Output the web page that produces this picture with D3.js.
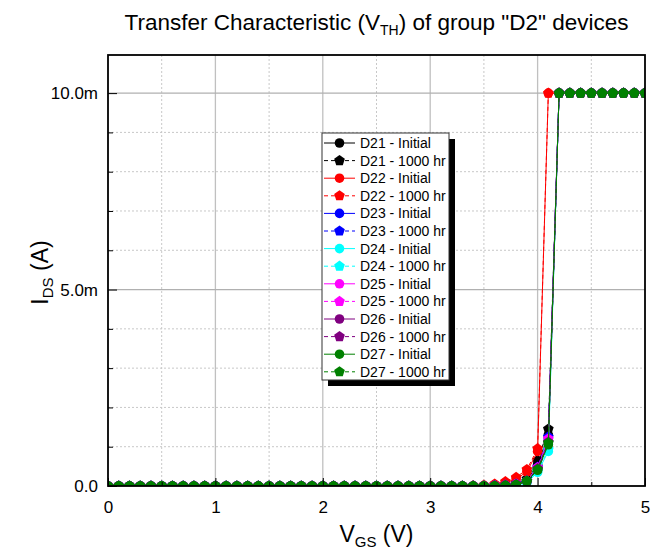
<!DOCTYPE html>
<html>
<head>
<meta charset="utf-8">
<script src="https://cdn.jsdelivr.net/npm/d3@7"></script>
<style>
  body { margin: 0; background: #fff; }
  svg { font-family: Arial, "Liberation Sans", sans-serif; }
</style>
</head>
<body>
<div id="main-frame"></div>
<script>
// V_GS sweep (V), 0.1 V step
const vgs = [
  0.0, 0.1, 0.2, 0.3, 0.4, 0.5, 0.6, 0.7, 0.8, 0.9,
  1.0, 1.1, 1.2, 1.3, 1.4, 1.5, 1.6, 1.7, 1.8, 1.9,
  2.0, 2.1, 2.2, 2.3, 2.4, 2.5, 2.6, 2.7, 2.8, 2.9,
  3.0, 3.1, 3.2, 3.3, 3.4, 3.5, 3.6, 3.7, 3.8, 3.9,
  4.0, 4.1, 4.2, 4.3, 4.4, 4.5, 4.6, 4.7, 4.8, 4.9, 5.0,
];

// I_DS values (mA), one array per series
const d21Initial = [
  0, 0, 0, 0, 0, 0, 0, 0, 0, 0, 0, 0, 0, 0, 0, 0, 0, 0, 0, 0,
  0, 0, 0, 0, 0, 0, 0, 0, 0, 0, 0, 0, 0, 0, 0,
  0.0, 0.01, 0.03, 0.06, 0.15, 0.55, 1.3, 10, 10, 10, 10, 10, 10, 10, 10, 10,
];
const d21Hr1000 = [
  0, 0, 0, 0, 0, 0, 0, 0, 0, 0, 0, 0, 0, 0, 0, 0, 0, 0, 0, 0,
  0, 0, 0, 0, 0, 0, 0, 0, 0, 0, 0, 0, 0, 0, 0,
  0.0, 0.01, 0.03, 0.07, 0.18, 0.65, 1.45, 10, 10, 10, 10, 10, 10, 10, 10, 10,
];
const d22Initial = [
  0, 0, 0, 0, 0, 0, 0, 0, 0, 0, 0, 0, 0, 0, 0, 0, 0, 0, 0, 0,
  0, 0, 0, 0, 0, 0, 0, 0, 0, 0, 0, 0, 0, 0, 0,
  0.01, 0.03, 0.08, 0.18, 0.36, 0.88, 10, 10, 10, 10, 10, 10, 10, 10, 10, 10,
];
const d22Hr1000 = [
  0, 0, 0, 0, 0, 0, 0, 0, 0, 0, 0, 0, 0, 0, 0, 0, 0, 0, 0, 0,
  0, 0, 0, 0, 0, 0, 0, 0, 0, 0, 0, 0, 0, 0, 0.01,
  0.02, 0.05, 0.11, 0.22, 0.42, 0.95, 10, 10, 10, 10, 10, 10, 10, 10, 10, 10,
];
const d23Initial = [
  0, 0, 0, 0, 0, 0, 0, 0, 0, 0, 0, 0, 0, 0, 0, 0, 0, 0, 0, 0,
  0, 0, 0, 0, 0, 0, 0, 0, 0, 0, 0, 0, 0, 0, 0,
  0.0, 0.01, 0.02, 0.05, 0.12, 0.45, 1.2, 10, 10, 10, 10, 10, 10, 10, 10, 10,
];
const d23Hr1000 = [
  0, 0, 0, 0, 0, 0, 0, 0, 0, 0, 0, 0, 0, 0, 0, 0, 0, 0, 0, 0,
  0, 0, 0, 0, 0, 0, 0, 0, 0, 0, 0, 0, 0, 0, 0,
  0.0, 0.01, 0.02, 0.05, 0.13, 0.48, 1.25, 10, 10, 10, 10, 10, 10, 10, 10, 10,
];
const d24Initial = [
  0, 0, 0, 0, 0, 0, 0, 0, 0, 0, 0, 0, 0, 0, 0, 0, 0, 0, 0, 0,
  0, 0, 0, 0, 0, 0, 0, 0, 0, 0, 0, 0, 0, 0, 0,
  0.0, 0.0, 0.01, 0.03, 0.08, 0.35, 0.88, 10, 10, 10, 10, 10, 10, 10, 10, 10,
];
const d24Hr1000 = [
  0, 0, 0, 0, 0, 0, 0, 0, 0, 0, 0, 0, 0, 0, 0, 0, 0, 0, 0, 0,
  0, 0, 0, 0, 0, 0, 0, 0, 0, 0, 0, 0, 0, 0, 0,
  0.0, 0.0, 0.01, 0.03, 0.09, 0.38, 0.93, 10, 10, 10, 10, 10, 10, 10, 10, 10,
];
const d25Initial = [
  0, 0, 0, 0, 0, 0, 0, 0, 0, 0, 0, 0, 0, 0, 0, 0, 0, 0, 0, 0,
  0, 0, 0, 0, 0, 0, 0, 0, 0, 0, 0, 0, 0, 0, 0,
  0.0, 0.01, 0.02, 0.05, 0.12, 0.45, 1.15, 10, 10, 10, 10, 10, 10, 10, 10, 10,
];
const d25Hr1000 = [
  0, 0, 0, 0, 0, 0, 0, 0, 0, 0, 0, 0, 0, 0, 0, 0, 0, 0, 0, 0,
  0, 0, 0, 0, 0, 0, 0, 0, 0, 0, 0, 0, 0, 0, 0,
  0.0, 0.01, 0.02, 0.05, 0.13, 0.47, 1.2, 10, 10, 10, 10, 10, 10, 10, 10, 10,
];
const d26Initial = [
  0, 0, 0, 0, 0, 0, 0, 0, 0, 0, 0, 0, 0, 0, 0, 0, 0, 0, 0, 0,
  0, 0, 0, 0, 0, 0, 0, 0, 0, 0, 0, 0, 0, 0, 0,
  0.0, 0.01, 0.02, 0.04, 0.11, 0.42, 1.1, 10, 10, 10, 10, 10, 10, 10, 10, 10,
];
const d26Hr1000 = [
  0, 0, 0, 0, 0, 0, 0, 0, 0, 0, 0, 0, 0, 0, 0, 0, 0, 0, 0, 0,
  0, 0, 0, 0, 0, 0, 0, 0, 0, 0, 0, 0, 0, 0, 0,
  0.0, 0.01, 0.02, 0.04, 0.12, 0.44, 1.12, 10, 10, 10, 10, 10, 10, 10, 10, 10,
];
const d27Initial = [
  0, 0, 0, 0, 0, 0, 0, 0, 0, 0, 0, 0, 0, 0, 0, 0, 0, 0, 0, 0,
  0, 0, 0, 0, 0, 0, 0, 0, 0, 0, 0, 0, 0, 0, 0,
  0.0, 0.0, 0.01, 0.03, 0.12, 0.4, 1.05, 10, 10, 10, 10, 10, 10, 10, 10, 10,
];
const d27Hr1000 = [
  0, 0, 0, 0, 0, 0, 0, 0, 0, 0, 0, 0, 0, 0, 0, 0, 0, 0, 0, 0,
  0, 0, 0, 0, 0, 0, 0, 0, 0, 0, 0, 0, 0, 0, 0,
  0.0, 0.0, 0.01, 0.03, 0.13, 0.42, 1.1, 10, 10, 10, 10, 10, 10, 10, 10, 10,
];

const seriesNames = [
  "D21 - Initial", "D21 - 1000 hr", "D22 - Initial", "D22 - 1000 hr",
  "D23 - Initial", "D23 - 1000 hr", "D24 - Initial", "D24 - 1000 hr",
  "D25 - Initial", "D25 - 1000 hr", "D26 - Initial", "D26 - 1000 hr",
  "D27 - Initial", "D27 - 1000 hr",
];
const seriesValues = [
  d21Initial, d21Hr1000, d22Initial, d22Hr1000, d23Initial, d23Hr1000,
  d24Initial, d24Hr1000, d25Initial, d25Hr1000, d26Initial, d26Hr1000,
  d27Initial, d27Hr1000,
];
const xTicks = [0, 1, 2, 3, 4, 5];
const yTicks = [0, 5, 10];

const colors = ["#000000", "#ff0000", "#0000ff", "#00ffff", "#ff00ff", "#800080", "#008000"];

const series = seriesNames.map((name, i) => ({
  name,
  color: colors[Math.floor(i / 2)],
  aged: i % 2 === 1,
  points: vgs.map((v, j) => ({ x: v, y: seriesValues[i][j] })),
}));

const W = 651, H = 553;
const margin = { top: 55, right: 6, bottom: 67, left: 108 };
const width = W - margin.left - margin.right;
const height = H - margin.top - margin.bottom;

const root = d3.select("#main-frame").append("svg")
  .attr("width", W).attr("height", H);
root.append("rect").attr("width", W).attr("height", H).attr("fill", "#fff");

const svg = root.append("g")
  .attr("transform", `translate(${margin.left}, ${margin.top})`);

const xScale = d3.scaleLinear().domain([0, 5]).range([0, width]);
const yScale = d3.scaleLinear().domain([0, 10.97]).range([height, 0]);

// grid
const minorX = d3.range(0.5, 5, 1);
const minorY = [1, 2, 3, 4, 6, 7, 8, 9];
svg.append("g").selectAll("line").data(minorX).enter().append("line")
  .attr("x1", (d) => xScale(d)).attr("x2", (d) => xScale(d))
  .attr("y1", 0).attr("y2", height)
  .attr("stroke", "#c8c8c8").attr("stroke-dasharray", "2,2");
svg.append("g").selectAll("line").data(minorY).enter().append("line")
  .attr("y1", (d) => yScale(d)).attr("y2", (d) => yScale(d))
  .attr("x1", 0).attr("x2", width)
  .attr("stroke", "#c8c8c8").attr("stroke-dasharray", "2,2");
svg.append("g").selectAll("line").data(xTicks.slice(1, -1)).enter().append("line")
  .attr("x1", (d) => xScale(d)).attr("x2", (d) => xScale(d))
  .attr("y1", 0).attr("y2", height)
  .attr("stroke", "#c0c0c0").attr("stroke-width", 1.3);
svg.append("g").selectAll("line").data(yTicks.slice(1)).enter().append("line")
  .attr("y1", (d) => yScale(d)).attr("y2", (d) => yScale(d))
  .attr("x1", 0).attr("x2", width)
  .attr("stroke", "#b0b0b0").attr("stroke-width", 1.3);

// clip
svg.append("clipPath").attr("id", "clip").append("rect")
  .attr("width", width).attr("height", height);

function pentagon(r) {
  const pts = d3.range(5).map((k) => {
    const a = -Math.PI / 2 + k * 2 * Math.PI / 5;
    return [r * Math.cos(a), r * Math.sin(a)];
  });
  return "M" + pts.map((p) => p.join(",")).join("L") + "Z";
}
const pentPath = pentagon(5.6);

const line = d3.line().x((d) => xScale(d.x)).y((d) => yScale(d.y));

const plot = svg.append("g").attr("clip-path", "url(#clip)");
series.forEach((s) => {
  const g = plot.append("g");
  g.append("path").datum(s.points)
    .attr("d", line).attr("fill", "none")
    .attr("stroke", s.color).attr("stroke-width", 1)
    .attr("stroke-dasharray", s.aged ? "4,3" : null);
  if (s.aged) {
    g.selectAll("path.m").data(s.points).enter().append("path")
      .attr("class", "m")
      .attr("d", pentPath)
      .attr("transform", (d) => `translate(${xScale(d.x)},${yScale(d.y)})`)
      .attr("fill", s.color);
  } else {
    g.selectAll("circle").data(s.points).enter().append("circle")
      .attr("cx", (d) => xScale(d.x)).attr("cy", (d) => yScale(d.y))
      .attr("r", 4.8).attr("fill", s.color);
  }
});

// axes (ticks inward)
const xAxis = d3.axisBottom(xScale).tickValues(d3.range(0, 5.01, 0.5))
  .tickSize(-8).tickPadding(15)
  .tickFormat((d) => (Number.isInteger(d) ? d : ""));
const gx = svg.append("g").attr("transform", `translate(0, ${height})`).call(xAxis);
gx.selectAll(".tick line").attr("y2", (d) => (Number.isInteger(d) ? -8 : -4));
gx.selectAll("text").attr("font-size", 17).attr("fill", "#000").attr("dy", "0.71em");

const yAxis = d3.axisLeft(yScale).tickValues(d3.range(0, 11, 1))
  .tickSize(-8).tickPadding(10)
  .tickFormat((d) => (d === 0 ? "0.0" : d % 5 === 0 ? d.toFixed(1) + "m" : ""));
const gy = svg.append("g").call(yAxis);
gy.selectAll(".tick line").attr("x2", (d) => (d % 5 === 0 ? 9 : 5));
gy.selectAll("text").attr("font-size", 17).attr("fill", "#000");

[gx, gy].forEach((g) => g.select(".domain").remove());

// frame
svg.append("rect").attr("width", width).attr("height", height)
  .attr("fill", "none").attr("stroke", "#000").attr("stroke-width", 1.8);

// titles
root.append("text")
  .attr("x", margin.left + width / 2).attr("y", 30)
  .attr("text-anchor", "middle").attr("font-size", 22.5)
  .html('Transfer Characteristic (V<tspan dy="5" font-size="14">TH</tspan><tspan dy="-5">) of group "D2" devices</tspan>');

root.append("text")
  .attr("x", margin.left + width / 2).attr("y", 542)
  .attr("text-anchor", "middle").attr("font-size", 23)
  .html('V<tspan dy="5" font-size="15">GS</tspan><tspan dy="-5"> (V)</tspan>');

root.append("text")
  .attr("transform", `translate(48, ${margin.top + height / 2 + 2}) rotate(-90)`)
  .attr("text-anchor", "middle").attr("font-size", 23)
  .html('I<tspan dy="5" font-size="15">DS</tspan><tspan dy="-5"> (A)</tspan>');

// legend
const lg = { x: 322, y: 133, w: 127, h: 247, row: 17.6 };
const legend = root.append("g").attr("id", "legend");
legend.append("rect")
  .attr("x", lg.x + 6).attr("y", lg.y + 6).attr("width", lg.w).attr("height", lg.h)
  .attr("fill", "#000");
legend.append("rect")
  .attr("x", lg.x).attr("y", lg.y).attr("width", lg.w).attr("height", lg.h)
  .attr("fill", "#fff").attr("stroke", "#333").attr("stroke-width", 1);

const items = legend.selectAll("g.item").data(series).enter().append("g")
  .attr("class", "item")
  .attr("transform", (d, i) => `translate(${lg.x}, ${lg.y + 10 + i * lg.row})`);
items.append("line")
  .attr("x1", 2).attr("x2", 33).attr("y1", 0).attr("y2", 0)
  .attr("stroke", (d) => d.color).attr("stroke-width", 1)
  .attr("stroke-dasharray", (d) => (d.aged ? "4,3" : null));
items.each(function (d) {
  const g = d3.select(this);
  if (d.aged) {
    g.append("path").attr("d", pentPath).attr("transform", "translate(17.5,0)")
      .attr("fill", d.color);
  } else {
    g.append("circle").attr("cx", 17.5).attr("cy", 0).attr("r", 4.8)
      .attr("fill", d.color);
  }
});
items.append("text")
  .attr("x", 38).attr("y", 0).attr("dy", "0.35em")
  .attr("font-size", 14).text((d) => d.name);
</script>
</body>
</html>
